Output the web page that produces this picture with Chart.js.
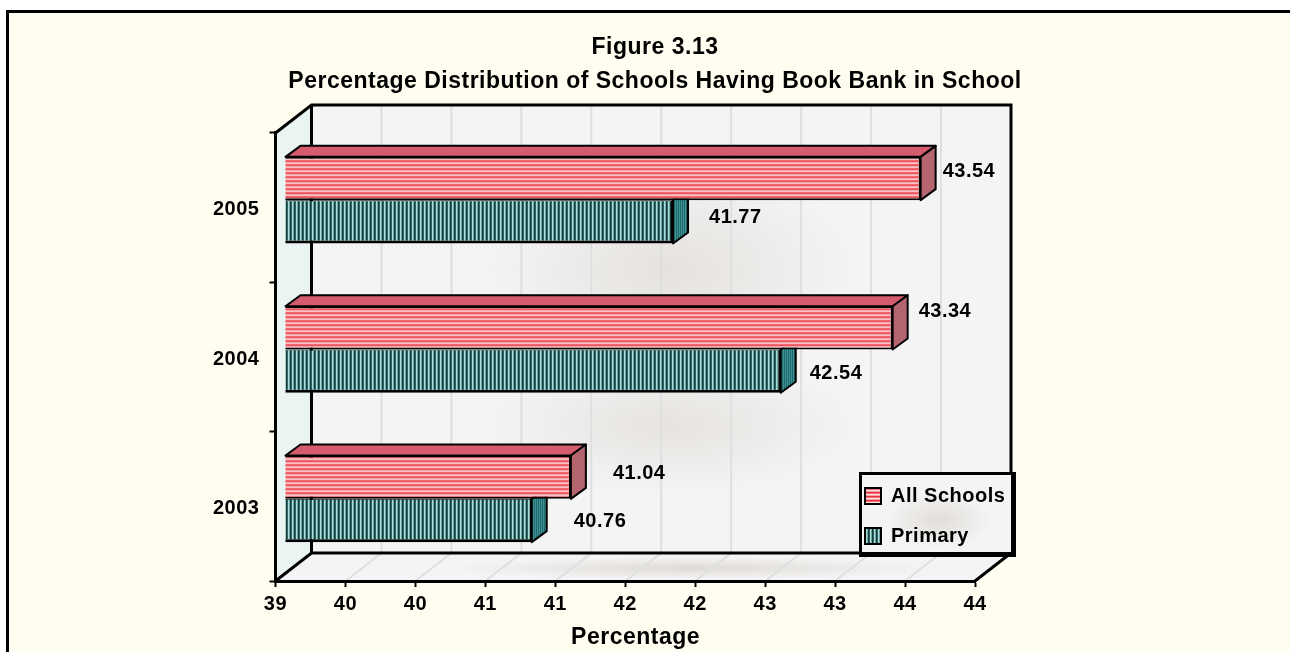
<!DOCTYPE html>
<html>
<head>
<meta charset="utf-8">
<style>
    html, body { margin: 0; padding: 0; background: #fff; }
    #wrap { position: absolute; left: 0; top: 0; width: 1290px; height: 652px; }
</style>
<script src="https://cdn.jsdelivr.net/npm/chart.js@4/dist/chart.umd.min.js"></script>
</head>
<body>
<div id="wrap"><canvas id="bookBankChart" width="1290" height="652"></canvas></div>
<script>
const years = ['2005', '2004', '2003'];
const allSchools = [43.54, 43.34, 41.04];
const primary = [41.77, 42.54, 40.76];
const seriesNames = ['All Schools', 'Primary'];
const titleLines = ['Figure 3.13', 'Percentage Distribution of Schools Having Book Bank in School'];
const xTickValues = [39, 39.5, 40, 40.5, 41, 41.5, 42, 42.5, 43, 43.5, 44];
const xTickLabels = ['39', '40', '40', '41', '41', '42', '42', '43', '43', '44', '44'];

const FONT = '"Liberation Sans", Arial, sans-serif';
const depth = { x: 36, y: -28 };      // plot box depth
const barShift = { x: 10, y: -7.5 };  // bars sit a little behind the front plane
const barDepth = { x: 15, y: -11 };
const legendPanel = { left: 861, top: 474, right: 1012, bottom: 553 };
// value labels are hand placed in the original, [dx, dy] from the bar end
const allSchoolsLabelOffset = [[32, -7], [36, -16], [52, -4]];
const primaryLabelOffset = [[46, -4], [39, 2], [52, 1]];

function stripes(horizontal, colors) {
    const c = document.createElement('canvas');
    c.width = horizontal ? 1 : colors.length;
    c.height = horizontal ? colors.length : 1;
    const g = c.getContext('2d');
    colors.forEach((col, i) => {
        g.fillStyle = col;
        if (horizontal) g.fillRect(0, i, 1, 1);
        else g.fillRect(i, 0, 1, 1);
    });
    return g.createPattern(c, 'repeat');
}

function poly(ctx, pts, fill, stroke, lw) {
    ctx.beginPath();
    pts.forEach((p, i) => i ? ctx.lineTo(p[0], p[1]) : ctx.moveTo(p[0], p[1]));
    ctx.closePath();
    if (fill) { ctx.fillStyle = fill; ctx.fill(); }
    if (stroke) { ctx.strokeStyle = stroke; ctx.lineWidth = lw; ctx.lineJoin = 'round'; ctx.stroke(); }
}

function blotch(ctx, cx, cy, rx, ry, color) {
    ctx.save();
    ctx.translate(cx, cy);
    ctx.scale(rx, ry);
    const g = ctx.createRadialGradient(0, 0, 0, 0, 0, 1);
    g.addColorStop(0, color);
    g.addColorStop(1, 'rgba(225,222,216,0)');
    ctx.fillStyle = g;
    ctx.fillRect(-1, -1, 2, 2);
    ctx.restore();
}

const plotBox = {
    id: 'plotBox',
    beforeLayout(chart) {
        // all text in the original runs a little wide
        chart.ctx.letterSpacing = '0.5px';
    },
    beforeDraw(chart) {
        const { ctx, chartArea: a, scales: { x } } = chart;
        const L = a.left, R = a.right, T = a.top, B = a.bottom;
        const dx = depth.x, dy = depth.y;
        ctx.letterSpacing = '0.5px';
        ctx.save();

        // outer frame, open on the right and at the bottom
        ctx.fillStyle = '#fffdf0';
        ctx.fillRect(6, 10, 1284, 642);
        ctx.fillStyle = '#000';
        ctx.fillRect(6, 10, 1284, 3);
        ctx.fillRect(6, 10, 3, 642);

        // back wall, floor, side wall
        poly(ctx, [[L + dx, T + dy], [R + dx, T + dy], [R + dx, B + dy], [L + dx, B + dy]], '#f5f4f5');
        poly(ctx, [[L, B], [R, B], [R + dx, B + dy], [L + dx, B + dy]], '#f5f4f5');
        blotch(ctx, 670, 270, 190, 110, 'rgba(225,222,216,0.8)');
        blotch(ctx, 670, 425, 190, 70, 'rgba(225,222,216,0.75)');
        blotch(ctx, 690, 568, 250, 11, 'rgba(222,219,213,1)');
        poly(ctx, [[L, T], [L + dx, T + dy], [L + dx, B + dy], [L, B]], '#eaf5f3');

        // grid lines on wall and floor
        ctx.strokeStyle = '#dfdfdf';
        ctx.lineWidth = 2;
        xTickValues.slice(1, -1).forEach(v => {
            const px = x.getPixelForValue(v);
            ctx.beginPath();
            ctx.moveTo(px, B);
            ctx.lineTo(px + dx, B + dy);
            ctx.lineTo(px + dx, T + dy);
            ctx.stroke();
        });

        // box edges
        ctx.strokeStyle = '#000';
        ctx.lineWidth = 3;
        ctx.lineJoin = 'miter';
        ctx.beginPath();
        ctx.moveTo(L, B);
        ctx.lineTo(L + dx, B + dy);
        ctx.lineTo(R + dx, B + dy);
        ctx.moveTo(L, T);
        ctx.lineTo(L + dx, T + dy);
        ctx.lineTo(R + dx, T + dy);
        ctx.lineTo(R + dx, B + dy);
        ctx.lineTo(R, B);
        ctx.moveTo(L + dx, T + dy);
        ctx.lineTo(L + dx, B + dy);
        ctx.stroke();

        // legend panel, library legend draws its text on top
        const p = legendPanel;
        const w = p.right - p.left, h = p.bottom - p.top;
        ctx.fillStyle = '#f5f4f5';
        ctx.fillRect(p.left, p.top, w, h);
        blotch(ctx, p.left + 78, p.top + 46, 55, 28, 'rgba(225,222,216,1)');
        ctx.fillStyle = '#000';
        ctx.fillRect(p.left - 2, p.top - 2, w + 4, 3);
        ctx.fillRect(p.left - 2, p.top - 2, 3, h + 4);
        ctx.fillRect(p.right - 1, p.top - 2, 5, h + 6);
        ctx.fillRect(p.left - 2, p.bottom - 1, w + 6, 5);
        ctx.restore();
    },
    beforeDatasetsDraw(chart) {
        const ctx = chart.ctx;
        const base = chart.scales.x.getPixelForValue(39);
        ctx.save();
        ctx.translate(barShift.x, barShift.y);
        // depth faces, read from the bar elements
        chart.data.datasets.forEach((ds, i) => {
            chart.getDatasetMeta(i).data.forEach(bar => {
                const top = bar.y - bar.height / 2, bot = bar.y + bar.height / 2;
                const ex = bar.x, d = barDepth;
                if (i === 0) {
                    poly(ctx, [[base, top], [base + d.x, top + d.y], [ex + d.x, top + d.y], [ex, top]], ds.topFace, '#000', 2);
                }
                poly(ctx, [[ex, top], [ex + d.x, top + d.y], [ex + d.x, bot + d.y], [ex, bot]], ds.sideFace, '#000', 2);
            });
        });
    },
    afterDatasetsDraw(chart) {
        const ctx = chart.ctx;
        ctx.restore();
        // value labels
        ctx.save();
        ctx.font = 'bold 20px ' + FONT;
        ctx.fillStyle = '#000';
        ctx.textBaseline = 'middle';
        chart.data.datasets.forEach((ds, i) => {
            chart.getDatasetMeta(i).data.forEach((bar, j) => {
                const off = ds.labelOffset[j];
                ctx.fillText(ds.data[j].toFixed(2), bar.x + off[0], bar.y + barShift.y + off[1]);
            });
        });
        ctx.restore();
    }
};

// Chart.js has no free legend placement, so move the boxes after layout
const boxPlace = {
    id: 'boxPlace',
    afterLayout(chart) {
        const lg = chart.legend;
        lg.left = 845; lg.right = 1030; lg.top = 466; lg.bottom = 640;
        lg.width = lg.right - lg.left;
        lg.height = lg.bottom - lg.top;
        const t = chart.titleBlock;
        t.left = 0; t.right = 1310;
        t.width = 1310;
    }
};

const redPattern = stripes(true, ['#e8323f', '#f2707a', '#ffe0e0', '#f6a0a6']);
const greenPattern = stripes(false, ['#143c3c', '#2f6666', '#a9dcd8', '#6fa8a4']);
const redTop = stripes(true, ['#c8485c', '#e07080']);
const redSide = stripes(true, ['#a04050', '#c88a90']);
const greenSide = stripes(false, ['#1f6a6c', '#3f9294']);

new Chart(document.getElementById('bookBankChart'), {
    type: 'bar',
    data: {
        labels: years,
        datasets: [
            {
                label: seriesNames[0],
                data: allSchools,
                backgroundColor: redPattern,
                borderColor: '#000',
                borderWidth: 2,
                borderSkipped: false,
                topFace: redTop,
                sideFace: redSide,
                labelOffset: allSchoolsLabelOffset
            },
            {
                label: seriesNames[1],
                data: primary,
                backgroundColor: greenPattern,
                borderColor: '#000',
                borderWidth: { top: 1, left: 2, right: 2, bottom: 3 },
                borderSkipped: false,
                topFace: greenSide,
                sideFace: greenSide,
                labelOffset: primaryLabelOffset
            }
        ]
    },
    options: {
        indexAxis: 'y',
        responsive: false,
        animation: false,
        categoryPercentage: 0.58,
        barPercentage: 1,
        layout: { padding: { left: 203, right: 315, top: 31, bottom: 0.2 } },
        plugins: {
            legend: {
                position: 'chartArea',
                align: 'start',
                labels: {
                    color: '#000',
                    font: { family: FONT, size: 20, weight: 'bold' },
                    boxWidth: 16,
                    boxHeight: 16,
                    padding: 20,
                    generateLabels: chart => chart.data.datasets.map((ds, i) => ({
                        text: ds.label,
                        fillStyle: ds.backgroundColor,
                        strokeStyle: '#000',
                        lineWidth: 2,
                        datasetIndex: i
                    }))
                }
            },
            title: {
                display: true,
                text: titleLines,
                color: '#000',
                font: { family: FONT, size: 23, weight: 'bold', lineHeight: 1.478 },
                padding: { top: 0, bottom: 34 }
            },
            tooltip: { enabled: false }
        },
        scales: {
            x: {
                type: 'linear',
                min: 39,
                max: 44,
                afterBuildTicks: axis => { axis.ticks = xTickValues.map(v => ({ value: v })); },
                grid: { drawOnChartArea: false, drawTicks: true, tickLength: 6, tickWidth: 2, tickColor: '#000' },
                border: { color: '#000', width: 3 },
                ticks: {
                    color: '#000',
                    font: { family: FONT, size: 20, weight: 'bold' },
                    maxRotation: 0,
                    autoSkip: false,
                    padding: 5,
                    callback: (val, i) => xTickLabels[i]
                },
                title: {
                    display: true,
                    text: '   Percentage',
                    color: '#000',
                    font: { family: FONT, size: 23, weight: 'bold' },
                    padding: { top: 3.2, bottom: 0 }
                }
            },
            y: {
                offset: true,
                grid: { drawOnChartArea: false, drawTicks: true, tickLength: 6, tickWidth: 2, tickColor: '#000' },
                border: { color: '#000', width: 3 },
                ticks: {
                    color: '#000',
                    font: { family: FONT, size: 20, weight: 'bold' },
                    padding: 10,
                    labelOffset: 2
                }
            }
        }
    },
    plugins: [boxPlace, plotBox]
});
</script>
</body>
</html>
